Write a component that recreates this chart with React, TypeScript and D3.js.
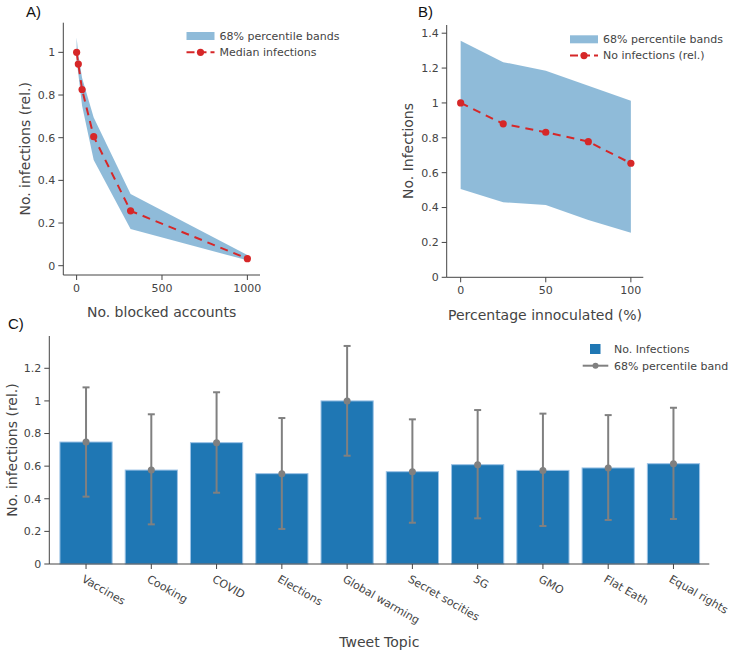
import React from "react";
import * as d3 from "d3";

// Panel A data
const blockedX = [0, 10, 32, 100, 316, 1000];
const blockedMedian = [1.0, 0.945, 0.826, 0.605, 0.257, 0.033];
const blockedUpper = [1.07, 0.99, 0.88, 0.695, 0.336, 0.05];
const blockedLower = [0.96, 0.9, 0.75, 0.495, 0.172, 0.025];
const aXTicks = [0, 500, 1000];
const aYTicks = [0, 0.2, 0.4, 0.6, 0.8, 1];

// Panel B data
const inocX = [0, 25, 50, 75, 100];
const inocMedian = [1.0, 0.88, 0.832, 0.778, 0.654];
const inocUpper = [1.356, 1.234, 1.184, 1.098, 1.012];
const inocLower = [0.507, 0.43, 0.415, 0.329, 0.256];
const bXTicks = [0, 50, 100];
const bYTicks = [0, 0.2, 0.4, 0.6, 0.8, 1, 1.2, 1.4];

// Panel C data
const topics = ["Vaccines", "Cooking", "COVID", "Elections", "Global warming", "Secret socities", "5G", "GMO", "Flat Eath", "Equal rights"];
const topicValues = [0.748, 0.576, 0.744, 0.554, 1.0, 0.566, 0.609, 0.574, 0.589, 0.615];
const topicUpper = [1.083, 0.918, 1.053, 0.895, 1.337, 0.887, 0.944, 0.922, 0.913, 0.958];
const topicLower = [0.413, 0.243, 0.437, 0.215, 0.664, 0.253, 0.28, 0.233, 0.27, 0.276];
const cYTicks = [0, 0.2, 0.4, 0.6, 0.8, 1, 1.2];

const FONT = "DejaVu Sans, Verdana, sans-serif";
const TXT = "#444";
const RED = "#d62728";
const BAND = "rgba(31,119,180,0.5)";
const BAR = "#1f77b4";
const GREY = "#808080";

const fmt = (v: number) => String(+v.toFixed(2));

function YAxis({ x, y, ticks, y0, y1 }: any) {
  return (
    <g>
      <line x1={x} x2={x} y1={y0} y2={y1} stroke={TXT} strokeWidth={1} />
      {ticks.map((t: number) => (
        <g key={t}>
          <line x1={x - 5} x2={x} y1={y(t)} y2={y(t)} stroke={TXT} />
          <text x={x - 8} y={y(t)} dy="0.35em" textAnchor="end" fontSize={11} fill={TXT} fontFamily={FONT}>{fmt(t)}</text>
        </g>
      ))}
    </g>
  );
}

function XAxis({ y, x, ticks, x0, x1 }: any) {
  return (
    <g>
      <line x1={x0} x2={x1} y1={y} y2={y} stroke={TXT} strokeWidth={1} />
      {ticks.map((t: number) => (
        <g key={t}>
          <line x1={x(t)} x2={x(t)} y1={y} y2={y + 5} stroke={TXT} />
          <text x={x(t)} y={y + 17} textAnchor="middle" fontSize={11} fill={TXT} fontFamily={FONT}>{fmt(t)}</text>
        </g>
      ))}
    </g>
  );
}

function LinePanel({ xs, med, up, lo, xScale, yScale, legendX, legendY, lineLabel }: any) {
  const area = d3.area<number>()
    .x((_, i) => xScale(xs[i]))
    .y0((_, i) => yScale(lo[i]))
    .y1((_, i) => yScale(up[i]));
  const line = d3.line<number>()
    .x((_, i) => xScale(xs[i]))
    .y((d) => yScale(d));
  return (
    <g>
      <path d={area(med) || ""} fill={BAND} />
      <path d={line(med) || ""} fill="none" stroke={RED} strokeWidth={2} strokeDasharray="8,6" />
      {med.map((d: number, i: number) => (
        <circle key={i} cx={xScale(xs[i])} cy={yScale(d)} r={3.6} fill={RED} />
      ))}
      <g fontFamily={FONT} fontSize={11} fill={TXT}>
        <rect x={legendX} y={legendY - 4} width={28} height={8} fill={BAND} />
        <text x={legendX + 33} y={legendY} dy="0.35em">68% percentile bands</text>
        <line x1={legendX} x2={legendX + 28} y1={legendY + 16.3} y2={legendY + 16.3} stroke={RED} strokeWidth={2} strokeDasharray="8,4" />
        <circle cx={legendX + 14} cy={legendY + 16.3} r={3.6} fill={RED} />
        <text x={legendX + 33} y={legendY + 16.3} dy="0.35em">{lineLabel}</text>
      </g>
    </g>
  );
}

export default function App() {
  // Panel A scales
  const xA = d3.scaleLinear().domain([-78, 1074]).range([63.3, 260]);
  const yA = d3.scaleLinear().domain([-0.0436, 1.139]).range([275, 22.7]);
  // Panel B scales
  const xB = d3.scaleLinear().domain([-8.2, 107.3]).range([446.7, 643.3]);
  const yB = d3.scaleLinear().domain([0, 1.447]).range([277.3, 25]);
  // Panel C scales
  const xC = d3.scaleBand<string>().domain(topics).range([53.4, 706.1]).paddingInner(0.2).paddingOuter(0.1);
  const yC = d3.scaleLinear().domain([0, 1.398]).range([564, 336]);
  const bw = xC.bandwidth();

  return (
    <svg width={733} height={653} style={{ position: "absolute", left: 0, top: 0, background: "#fff" }}>
      <rect width={733} height={653} fill="#fff" />
      {/* Panel labels */}
      <text x={26} y={16.5} fontSize={15} fontFamily="Liberation Sans, Arial, sans-serif" fill="#111">A)</text>
      <text x={418} y={16.5} fontSize={15} fontFamily="Liberation Sans, Arial, sans-serif" fill="#111">B)</text>
      <text x={8} y={328.5} fontSize={15} fontFamily="Liberation Sans, Arial, sans-serif" fill="#111">C)</text>

      {/* Panel A */}
      <LinePanel xs={blockedX} med={blockedMedian} up={blockedUpper} lo={blockedLower} xScale={xA} yScale={yA} legendX={186.5} legendY={36} lineLabel="Median infections" />
      <YAxis x={63.3} y={yA} ticks={aYTicks} y0={22.7} y1={275} />
      <XAxis y={275} x={xA} ticks={aXTicks} x0={63.3} x1={260} />
      <text transform={`translate(25,148.8) rotate(-90)`} textAnchor="middle" dy="0.35em" fontSize={14} fill={TXT} fontFamily={FONT}>No. infections (rel.)</text>
      <text x={161.6} y={317} textAnchor="middle" fontSize={14} fill={TXT} fontFamily={FONT}>No. blocked accounts</text>

      {/* Panel B */}
      <LinePanel xs={inocX} med={inocMedian} up={inocUpper} lo={inocLower} xScale={xB} yScale={yB} legendX={570} legendY={39.3} lineLabel="No infections (rel.)" />
      <YAxis x={446.7} y={yB} ticks={bYTicks} y0={25} y1={277.3} />
      <XAxis y={277.3} x={xB} ticks={bXTicks} x0={446.7} x1={643.3} />
      <text transform={`translate(407.7,151) rotate(-90)`} textAnchor="middle" dy="0.35em" fontSize={14} fill={TXT} fontFamily={FONT}>No. Infections</text>
      <text x={545} y={320} textAnchor="middle" fontSize={14} fill={TXT} fontFamily={FONT}>Percentage innoculated (%)</text>

      {/* Panel C */}
      {topics.map((t, i) => (
        <rect key={t} x={xC(t)} y={yC(topicValues[i])} width={bw} height={yC(0) - yC(topicValues[i])} fill={BAR} stroke="#9cc3e6" strokeWidth={1} />
      ))}
      {topics.map((t, i) => {
        const cx = (xC(t) as number) + bw / 2;
        return (
          <g key={t}>
            <line x1={cx} x2={cx} y1={yC(topicUpper[i])} y2={yC(topicLower[i])} stroke={GREY} strokeWidth={2} />
            <line x1={cx - 3.5} x2={cx + 3.5} y1={yC(topicUpper[i])} y2={yC(topicUpper[i])} stroke={GREY} strokeWidth={2} />
            <line x1={cx - 3.5} x2={cx + 3.5} y1={yC(topicLower[i])} y2={yC(topicLower[i])} stroke={GREY} strokeWidth={2} />
            <circle cx={cx} cy={yC(topicValues[i])} r={3.5} fill={GREY} />
          </g>
        );
      })}
      <YAxis x={49.3} y={yC} ticks={cYTicks} y0={336} y1={564} />
      <line x1={49.3} x2={709.3} y1={564} y2={564} stroke={TXT} />
      {topics.map((t) => {
        const cx = (xC(t) as number) + bw / 2;
        return (
          <g key={t}>
            <line x1={cx} x2={cx} y1={564} y2={569} stroke={TXT} />
            <text transform={`translate(${cx - 1},${574}) rotate(30)`} dy="0.75em" fontSize={11} fill={TXT} fontFamily={FONT}>{t}</text>
          </g>
        );
      })}
      <text transform={`translate(12,450) rotate(-90)`} textAnchor="middle" dy="0.35em" fontSize={14} fill={TXT} fontFamily={FONT}>No. infections (rel.)</text>
      <text x={379.3} y={646.5} textAnchor="middle" fontSize={14} fill={TXT} fontFamily={FONT}>Tweet Topic</text>

      {/* Legend C */}
      <g fontFamily={FONT} fontSize={11} fill={TXT}>
        <rect x={590} y={344} width={10.5} height={10} fill={BAR} />
        <text x={614} y={349} dy="0.35em">No. Infections</text>
        <line x1={582.7} x2={608.3} y1={365.7} y2={365.7} stroke={GREY} strokeWidth={2} />
        <circle cx={595.5} cy={365.7} r={3} fill={GREY} />
        <text x={614} y={365.7} dy="0.35em">68% percentile band</text>
      </g>
    </svg>
  );
}
